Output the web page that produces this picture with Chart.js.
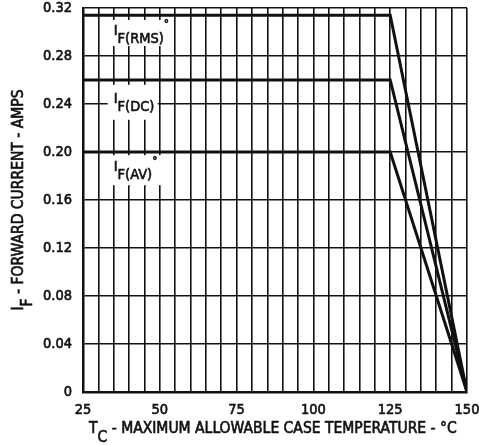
<!DOCTYPE html>
<html>
<head>
<meta charset="utf-8">
<script src="https://cdn.jsdelivr.net/npm/chart.js@4"></script>
<style>
  html, body { margin: 0; padding: 0; background: #fff; }
  #wrap { width: 479px; height: 445px; }
</style>
</head>
<body>
<div id="wrap"><canvas id="deratingChart"></canvas></div>
<script>
// case temperature breakpoints (deg C) and forward current limits (A)
const caseTemps = [25, 125, 150];
const rmsCurrent = [0.314, 0.314, 0];
const dcCurrent = [0.26, 0.26, 0];
const avgCurrent = [0.2, 0.2, 0];

const xTicks = [25, 50, 75, 100, 125, 150];
const yTicks = [0, 0.04, 0.08, 0.12, 0.16, 0.2, 0.24, 0.28, 0.32];

const INK = "#111";
const FONT = "'DejaVu Sans Condensed', 'Liberation Sans Narrow', sans-serif";
const STROKE = 0.6; // thickens the regular face a little

function toPoints(values) {
  return caseTemps.map((t, i) => ({ x: t, y: values[i] }));
}

// draws a run of text pieces, some of them lowered as subscripts
function drawRuns(ctx, runs, x, y, size) {
  let cx = x;
  ctx.strokeStyle = INK;
  ctx.lineWidth = STROKE;
  runs.forEach((r) => {
    ctx.font = (r.small ? 0.8 : 1) * size + "px " + FONT;
    const dy = r.sub ? size * 0.55 : r.sup ? -size * 0.45 : 0;
    ctx.fillText(r.text, cx, y + dy);
    ctx.strokeText(r.text, cx, y + dy);
    cx += ctx.measureText(r.text).width;
  });
  return cx - x;
}

function runsWidth(ctx, runs, size) {
  let w = 0;
  runs.forEach((r) => {
    ctx.font = (r.small ? 0.8 : 1) * size + "px " + FONT;
    w += ctx.measureText(r.text).width;
  });
  return w;
}

// curve names with a white box behind them, placed in data units
const curveLabels = [
  { x: 35, y: 0.2975, runs: [{ text: "I" }, { text: "F(RMS)", sub: true }, { text: "°", sup: true, small: true }], box: [-5, -15, 62, 26] },
  { x: 35, y: 0.241, runs: [{ text: "I" }, { text: "F(DC)", sub: true }], box: [-6, -18, 50, 35] },
  { x: 35, y: 0.184, runs: [{ text: "I" }, { text: "F(AV)", sub: true }, { text: "°", sup: true, small: true }], box: [-6, -16, 58, 30] },
];

const labelPlugin = {
  id: "curveLabels",
  afterDatasetsDraw(chart) {
    const { ctx, scales } = chart;
    ctx.save();
    ctx.textBaseline = "alphabetic";
    ctx.textAlign = "left";
    curveLabels.forEach((l) => {
      const px = scales.x.getPixelForValue(l.x);
      const py = scales.y.getPixelForValue(l.y);
      ctx.fillStyle = "#fff";
      ctx.fillRect(px + l.box[0], py + l.box[1], l.box[2], l.box[3]);
      ctx.fillStyle = INK;
      drawRuns(ctx, l.runs, px, py, 14.5);
    });
    ctx.restore();
  },
};

// axis titles need subscripts, so they are drawn here instead of scale.title
const titlePlugin = {
  id: "axisTitles",
  afterDraw(chart) {
    const { ctx, chartArea } = chart;
    const size = 15.5;
    ctx.save();
    ctx.fillStyle = INK;
    ctx.textBaseline = "alphabetic";
    ctx.textAlign = "left";

    const xRuns = [{ text: "T" }, { text: "C", sub: true }, { text: " - MAXIMUM ALLOWABLE CASE TEMPERATURE - °C" }];
    drawRuns(ctx, xRuns, 89, 433, size);

    const yRuns = [{ text: "I" }, { text: "F", sub: true }, { text: " - FORWARD CURRENT - AMPS" }];
    const w = runsWidth(ctx, yRuns, size);
    const cy = (chartArea.top + chartArea.bottom) / 2;
    ctx.translate(23, cy + w / 2);
    ctx.rotate(-Math.PI / 2);
    drawRuns(ctx, yRuns, 0, 0, size);
    ctx.restore();
  },
};

const tickFont = { family: FONT, size: 14.5 };

new Chart(document.getElementById("deratingChart"), {
  type: "line",
  data: {
    datasets: [
      { label: "IF(RMS)", data: toPoints(rmsCurrent) },
      { label: "IF(DC)", data: toPoints(dcCurrent) },
      { label: "IF(AV)", data: toPoints(avgCurrent) },
    ],
  },
  options: {
    responsive: true,
    maintainAspectRatio: false,
    animation: false,
    layout: { padding: { top: 8, right: 12, left: 0, bottom: 0 } },
    elements: {
      line: { borderColor: INK, borderWidth: 3, tension: 0 },
      point: { radius: 0 },
    },
    plugins: {
      legend: { display: false },
      tooltip: { enabled: false },
    },
    scales: {
      x: {
        type: "linear",
        min: 25,
        max: 150,
        afterFit: (s) => {
          s.height = 53;
          s.paddingLeft = 0;
          s.paddingRight = 0;
        },
        ticks: {
          stepSize: 5,
          autoSkip: false,
          maxRotation: 0,
          padding: 10,
          color: INK,
          textStrokeColor: INK,
          textStrokeWidth: STROKE,
          font: tickFont,
          callback: (v) => (xTicks.includes(v) ? String(v) : ""),
        },
        grid: { color: INK, lineWidth: 1.6, drawTicks: false },
        border: { color: INK, width: 2.5 },
      },
      y: {
        min: 0,
        max: 0.32,
        afterFit: (s) => {
          s.width = 83;
          s.paddingTop = 0;
          s.paddingBottom = 0;
        },
        ticks: {
          stepSize: 0.04,
          padding: 11,
          color: INK,
          textStrokeColor: INK,
          textStrokeWidth: STROKE,
          font: tickFont,
          callback: (v) => {
            const t = yTicks.find((k) => Math.abs(k - v) < 1e-6);
            if (t === undefined) return "";
            return t === 0 ? "0" : t.toFixed(2);
          },
        },
        grid: { color: INK, lineWidth: 1.6, drawTicks: false },
        border: { color: INK, width: 2.5 },
      },
    },
  },
  plugins: [labelPlugin, titlePlugin],
});
</script>
</body>
</html>
